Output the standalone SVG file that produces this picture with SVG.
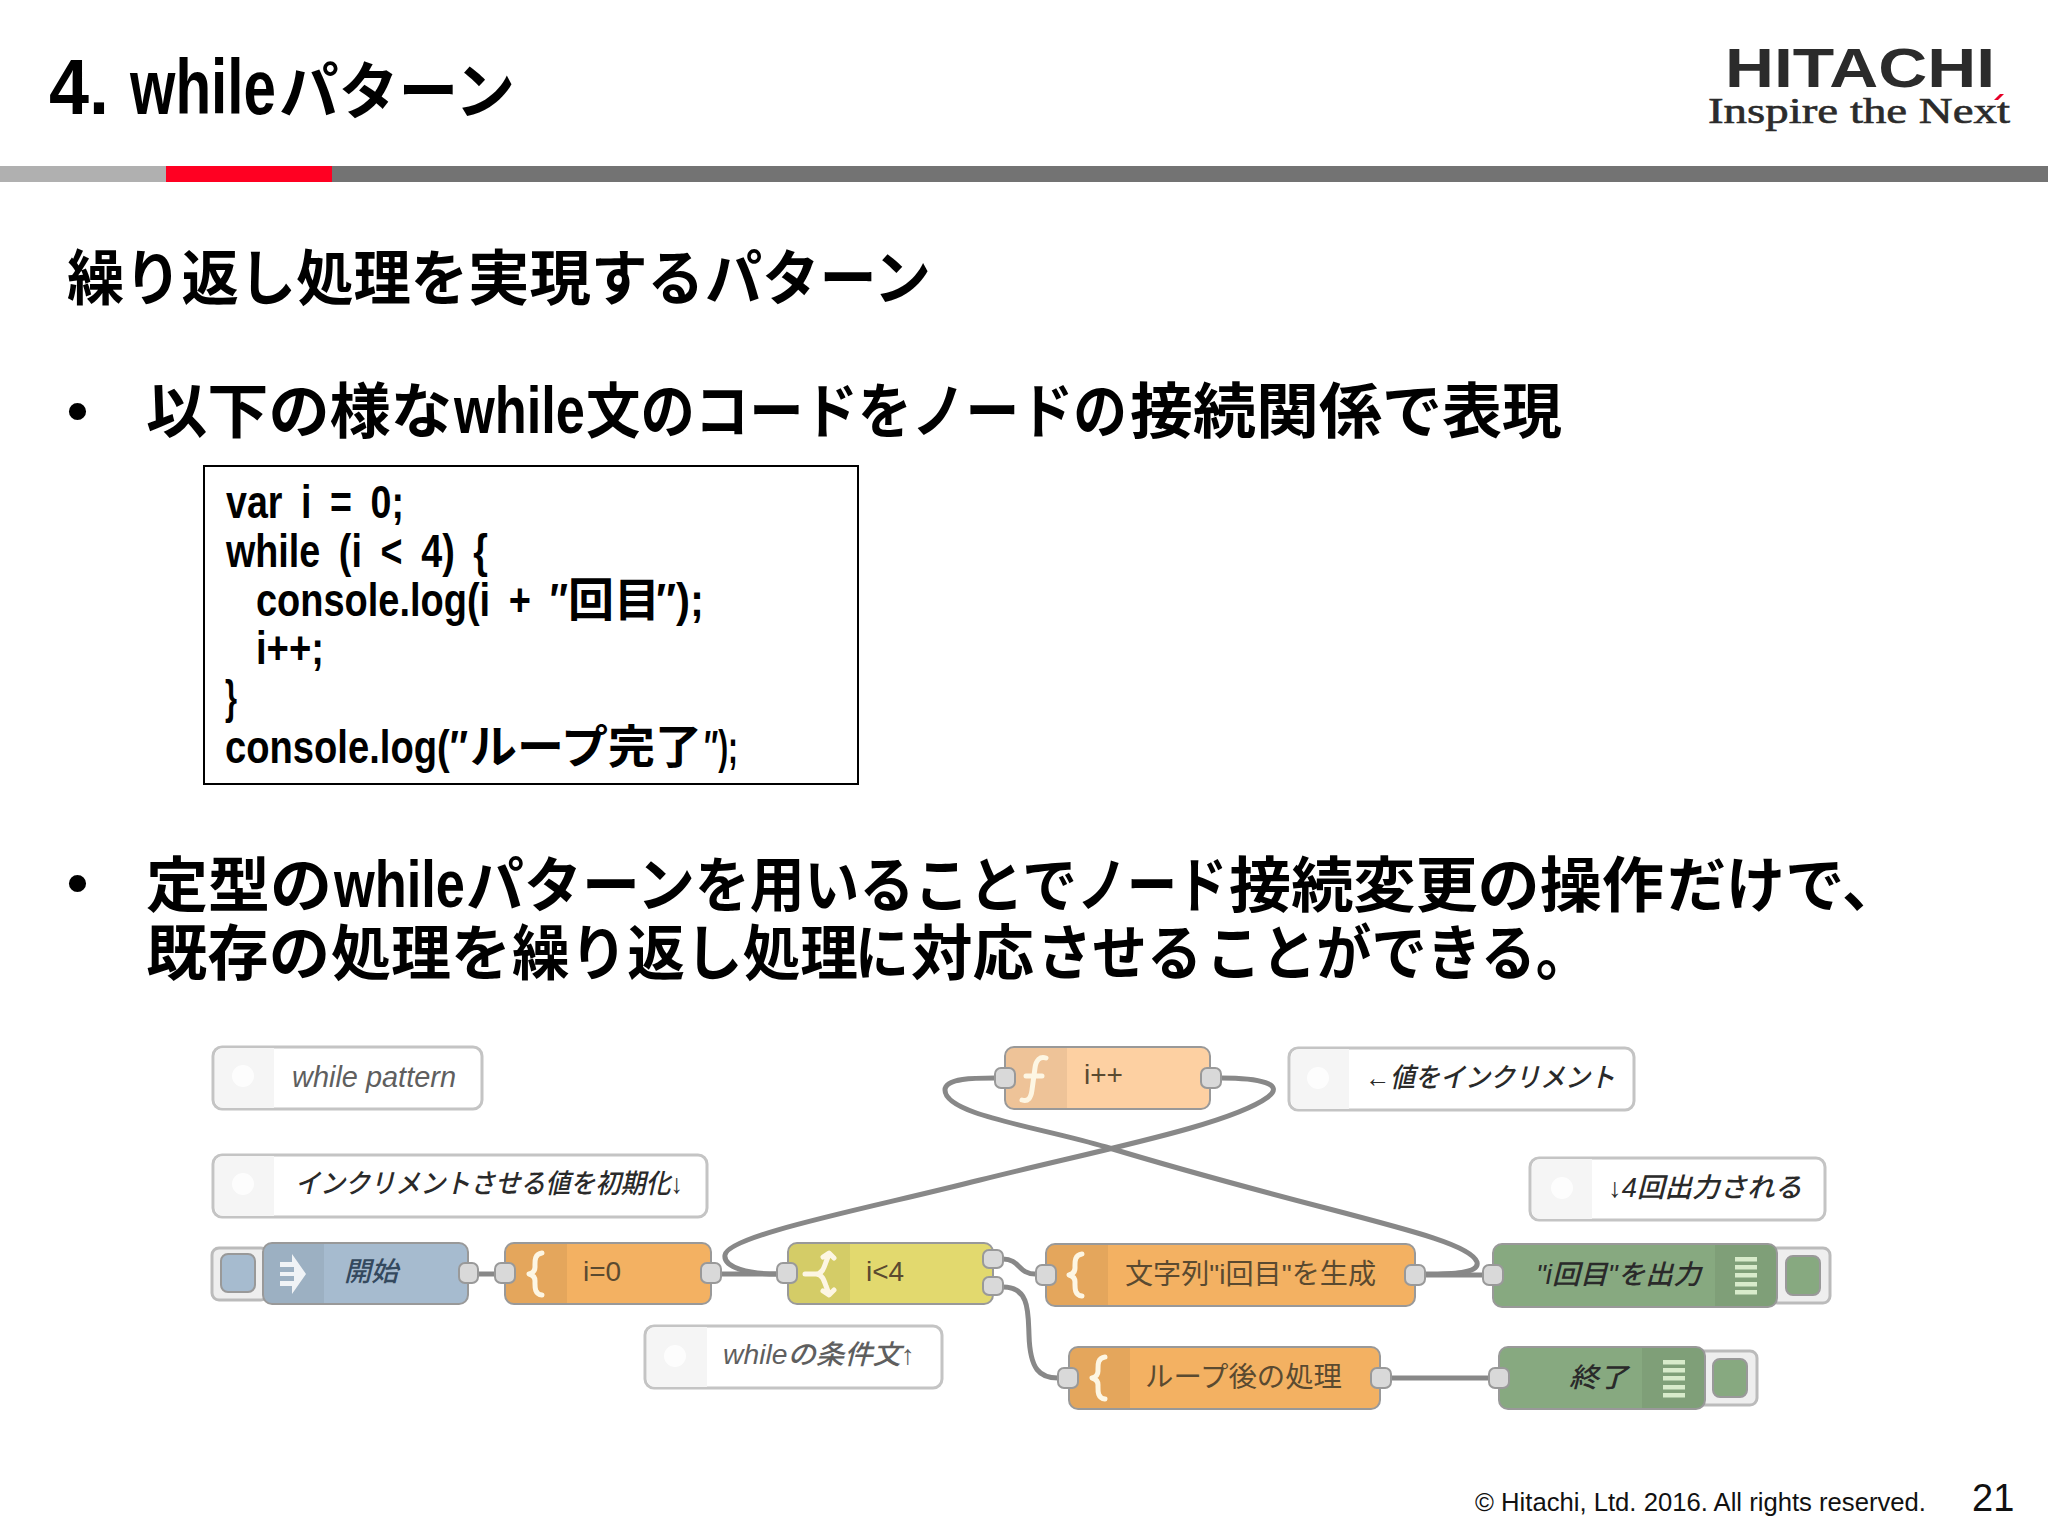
<svg xmlns="http://www.w3.org/2000/svg" width="2048" height="1536" viewBox="0 0 2048 1536">
<style>
text{font-family:"Liberation Sans","Noto Sans CJK JP",sans-serif;white-space:pre}
.h{font-weight:700;fill:#000}
.t{font-size:62px}
.b{font-size:60px}
.lat{font-size:66px}
.c{font-size:46px;font-weight:700;word-spacing:10px}
.n{stroke:#999;stroke-width:2}
.fn{fill:#f3b162}
.sw{fill:#e2d96e}
.inc{fill:#fdd0a2}
.inj{fill:#a6bbcf}
.dbg{fill:#87a980}
.cm{fill:#fff;stroke:#c4c4c4;stroke-width:3}
.cml{fill:#f5f5f5}
.div{fill:#000;opacity:.06}
.p{fill:#d9d9d9;stroke:#999;stroke-width:2}
.btn{fill:#eee;stroke:#bbb;stroke-width:3}
.w{fill:none;stroke:#888;stroke-width:5;stroke-linecap:round}
.l{font-size:28px;fill:#5a4a30}
.li{font-size:27px;font-style:italic;font-weight:500;fill:#2a2a2a}
.g{fill:#5f5f5f}
.ic{fill:none;stroke:#fdf6e3;stroke-width:5;stroke-linecap:round;stroke-linejoin:round}
.bar{fill:#d8ebcb}
.bl{fill:#fff;opacity:.8}
</style>
<defs>
<path id="brace" class="ic" d="M13,-21 C5,-20 6,-12 6,-7 C6,-3 4,-1 0,0 C4,1 6,3 6,7 C6,12 5,20 13,21"/>
<g id="bars"><rect x="0" y="0" width="22" height="4.500" class="bar"/><rect x="0" y="8" width="22" height="4.500" class="bar"/><rect x="0" y="16" width="22" height="4.500" class="bar"/><rect x="0" y="25" width="22" height="4.500" class="bar"/><rect x="0" y="33" width="22" height="4.500" class="bar"/></g>
</defs>
<rect width="2048" height="1536" fill="#fff"/>
<g id="header">
<rect x="0" y="166" width="166" height="16" fill="#b0b0b0"/>
<rect x="166" y="166" width="166" height="16" fill="#ff0022"/>
<rect x="332" y="166" width="1716" height="16" fill="#737373"/>
<text class="h t" y="114"><tspan x="49" style="font-size:77px" textLength="80" lengthAdjust="spacingAndGlyphs">4. </tspan><tspan x="130" style="font-size:77px" textLength="146" lengthAdjust="spacingAndGlyphs">while</tspan><tspan x="279" textLength="236" lengthAdjust="spacingAndGlyphs">パターン</tspan></text>
</g>
<g id="logo">
<text x="1725" y="87" font-size="56" font-weight="700" fill="#2b2b2b" textLength="270" lengthAdjust="spacingAndGlyphs">HITACHI</text>
<text x="1708" y="123" font-size="36" fill="#2b2b2b" stroke="#2b2b2b" stroke-width=".6" textLength="302" lengthAdjust="spacingAndGlyphs" style="font-family:'Liberation Serif',serif">Inspire the Next</text>
<polygon points="1994,100 2000,94 2004,94 1998,100" fill="#e60027"/>
</g>
<g id="body">
<text class="h b" y="300"><tspan x="67" textLength="401" lengthAdjust="spacingAndGlyphs">繰り返し処理を</tspan><tspan x="468" textLength="123" lengthAdjust="spacingAndGlyphs">実現</tspan><tspan x="591" textLength="113" lengthAdjust="spacingAndGlyphs">する</tspan><tspan x="705" textLength="226" lengthAdjust="spacingAndGlyphs">パターン</tspan></text>
<text class="h b" x="67" y="431">•</text>
<text class="h b" y="433"><tspan x="146" textLength="306" lengthAdjust="spacingAndGlyphs">以下の様な</tspan><tspan class="lat" x="454" textLength="131" lengthAdjust="spacingAndGlyphs">while</tspan><tspan x="586" textLength="272" lengthAdjust="spacingAndGlyphs">文のコード</tspan><tspan x="858" textLength="269" lengthAdjust="spacingAndGlyphs">をノードの</tspan><tspan x="1130" textLength="252" lengthAdjust="spacingAndGlyphs">接続関係</tspan><tspan x="1382" textLength="180" lengthAdjust="spacingAndGlyphs">で表現</tspan></text>
<text class="h b" x="67" y="903">•</text>
<text class="h b" y="907"><tspan x="146" textLength="186" lengthAdjust="spacingAndGlyphs">定型の</tspan><tspan class="lat" x="334" textLength="131" lengthAdjust="spacingAndGlyphs">while</tspan><tspan x="466" textLength="229" lengthAdjust="spacingAndGlyphs">パターン</tspan><tspan x="695" textLength="382" lengthAdjust="spacingAndGlyphs">を用いることで</tspan><tspan x="1077" textLength="150" lengthAdjust="spacingAndGlyphs">ノード</tspan><tspan x="1229" textLength="435" lengthAdjust="spacingAndGlyphs">接続変更の操作</tspan><tspan x="1667" textLength="234" lengthAdjust="spacingAndGlyphs">だけで、</tspan></text>
<text class="h b" y="975"><tspan x="146" textLength="184" lengthAdjust="spacingAndGlyphs">既存の</tspan><tspan x="331" textLength="180" lengthAdjust="spacingAndGlyphs">処理を</tspan><tspan x="512" textLength="346" lengthAdjust="spacingAndGlyphs">繰り返し処理</tspan><tspan x="855" textLength="54" lengthAdjust="spacingAndGlyphs">に</tspan><tspan x="911" textLength="123" lengthAdjust="spacingAndGlyphs">対応</tspan><tspan x="1037" textLength="165" lengthAdjust="spacingAndGlyphs">させる</tspan><tspan x="1206" textLength="385" lengthAdjust="spacingAndGlyphs">ことができる。</tspan></text>
</g>
<g id="code">
<rect x="204" y="466" width="654" height="318" fill="#fff" stroke="#000" stroke-width="2"/>
<text class="c" y="518"><tspan x="226" textLength="178" lengthAdjust="spacingAndGlyphs">var i = 0;</tspan></text>
<text class="c" y="567"><tspan x="226" textLength="262" lengthAdjust="spacingAndGlyphs">while (i &lt; 4) {</tspan></text>
<text class="c" y="616"><tspan x="256" textLength="312" lengthAdjust="spacingAndGlyphs">console.log(i + ″</tspan><tspan x="568">回目</tspan><tspan x="656" textLength="48" lengthAdjust="spacingAndGlyphs">″);</tspan></text>
<text class="c" y="664"><tspan x="256" textLength="68" lengthAdjust="spacingAndGlyphs">i++;</tspan></text>
<text class="c" y="713"><tspan x="225" textLength="12" lengthAdjust="spacingAndGlyphs">}</tspan></text>
<text class="c" y="763"><tspan x="225" textLength="243" lengthAdjust="spacingAndGlyphs">console.log(″</tspan><tspan x="470" textLength="232" lengthAdjust="spacingAndGlyphs">ループ完了</tspan><tspan x="704" textLength="34" lengthAdjust="spacingAndGlyphs">″);</tspan></text>
</g>
<g id="connectors">
<path class="w" d="M478,1274H495"/>
<path class="w" d="M721,1274H777"/>
<path class="w" d="M1003,1259C1020,1259 1018,1274 1035,1274"/>
<path class="w" d="M1003,1287C1030,1287 1028,1313 1029,1335C1030,1370 1040,1378 1058,1378"/>
<path class="w" d="M1426,1275H1482"/>
<path class="w" d="M1391,1378H1489"/>
<path class="w" d="M1221,1078C1260,1078 1285,1084 1268,1097C1230,1125 1100,1150 980,1180C870,1208 728,1235 725,1255C723,1268 750,1274 777,1274"/>
<path class="w" d="M1426,1274C1450,1274 1480,1274 1477,1262C1468,1236 1330,1215 1106,1147C1040,1127 945,1115 945,1090C945,1078 975,1078 995,1078"/>
</g>
<g id="c1"><rect class="cm" x="213" y="1047" width="269" height="62" rx="9"/><path class="cml" d="M215,1056a8,8 0 0 1 8,-8H274V1108H223a8,8 0 0 1 -8,-8Z"/><circle class="bl" cx="243" cy="1076" r="11"/><text class="li g" x="292" y="1087" style="font-size:29px" textLength="164" lengthAdjust="spacingAndGlyphs">while pattern</text></g>
<g id="c2"><rect class="cm" x="213" y="1155" width="494" height="62" rx="9"/><path class="cml" d="M215,1164a8,8 0 0 1 8,-8H274V1216H223a8,8 0 0 1 -8,-8Z"/><circle class="bl" cx="243" cy="1184" r="11"/><text class="li" x="295" y="1193" textLength="388" lengthAdjust="spacingAndGlyphs">インクリメントさせる値を初期化↓</text></g>
<g id="c3"><rect class="cm" x="645" y="1326" width="297" height="62" rx="9"/><path class="cml" d="M647,1335a8,8 0 0 1 8,-8H707V1387H655a8,8 0 0 1 -8,-8Z"/><circle class="bl" cx="675" cy="1356" r="11"/><text class="li g" x="723" y="1364" textLength="192" lengthAdjust="spacingAndGlyphs">whileの条件文↑</text></g>
<g id="c4"><rect class="cm" x="1289" y="1048" width="345" height="62" rx="9"/><path class="cml" d="M1291,1057a8,8 0 0 1 8,-8H1349V1109H1299a8,8 0 0 1 -8,-8Z"/><circle class="bl" cx="1318" cy="1078" r="11"/><text class="li" x="1365" y="1087" textLength="250" lengthAdjust="spacingAndGlyphs">←値をインクリメント</text></g>
<g id="c5"><rect class="cm" x="1530" y="1158" width="295" height="62" rx="9"/><path class="cml" d="M1532,1167a8,8 0 0 1 8,-8H1592V1219H1540a8,8 0 0 1 -8,-8Z"/><circle class="bl" cx="1562" cy="1188" r="11"/><text class="li" x="1608" y="1197" textLength="194" lengthAdjust="spacingAndGlyphs">↓4回出力される</text></g>
<g id="n-start">
<rect class="btn" x="212" y="1248" width="56" height="52" rx="7"/><rect class="inj" x="221" y="1254" width="34" height="38" rx="7" stroke="#999" stroke-width="2"/>
<rect class="n inj" x="263" y="1243" width="205" height="61" rx="9"/><path class="div" d="M264,1252a8,8 0 0 1 8,-8H324V1303H272a8,8 0 0 1 -8,-8Z"/>
<path fill="#fff" d="M280,1262h12v-8l14,20l-14,20v-8h-12v-5h14v-5h-14v-4h14v-5h-14Z" opacity=".85"/>
<text class="li" x="344" y="1281" style="fill:#34495e">開始</text>
<rect class="p" x="459" y="1263" width="19" height="20" rx="6"/></g>
<g id="n-i0">
<rect class="n fn" x="505" y="1243" width="206" height="61" rx="9"/><path class="div" d="M506,1252a8,8 0 0 1 8,-8H567V1303H514a8,8 0 0 1 -8,-8Z"/>
<use href="#brace" x="529" y="1274"/><text class="l" x="583" y="1281">i=0</text>
<rect class="p" x="495" y="1263" width="20" height="20" rx="6"/><rect class="p" x="701" y="1263" width="20" height="20" rx="6"/></g>
<g id="n-sw">
<rect class="n sw" x="788" y="1243" width="205" height="61" rx="9"/><path class="div" d="M789,1252a8,8 0 0 1 8,-8H850V1303H797a8,8 0 0 1 -8,-8Z"/>
<path class="ic" d="M805,1274H816C822,1274 824,1268 826,1262L829,1254M823,1257L829,1253L834,1258M816,1274C822,1274 824,1280 826,1286L829,1294M823,1291L829,1295L834,1290"/>
<text class="l" x="866" y="1281">i&lt;4</text>
<rect class="p" x="777" y="1263" width="20" height="20" rx="6"/><rect class="p" x="983" y="1250" width="20" height="18" rx="6"/><rect class="p" x="983" y="1277" width="20" height="18" rx="6"/></g>
<g id="n-inc">
<rect class="n inc" x="1005" y="1047" width="205" height="62" rx="9"/><path class="div" d="M1006,1056a8,8 0 0 1 8,-8H1067V1108H1014a8,8 0 0 1 -8,-8Z"/>
<path class="ic" d="M1046,1058C1040,1056 1036,1060 1035,1068L1032,1090C1031,1098 1028,1102 1022,1100M1026,1076H1042"/>
<text class="l" x="1084" y="1084">i++</text>
<rect class="p" x="995" y="1068" width="20" height="20" rx="6"/><rect class="p" x="1201" y="1068" width="20" height="20" rx="6"/></g>
<g id="n-text">
<rect class="n fn" x="1046" y="1244" width="369" height="62" rx="9"/><path class="div" d="M1047,1253a8,8 0 0 1 8,-8H1108V1305H1055a8,8 0 0 1 -8,-8Z"/>
<use href="#brace" x="1069" y="1275"/><text class="l" x="1125" y="1284" textLength="251" lengthAdjust="spacingAndGlyphs">文字列"i回目"を生成</text>
<rect class="p" x="1036" y="1265" width="20" height="20" rx="6"/><rect class="p" x="1405" y="1265" width="20" height="20" rx="6"/></g>
<g id="n-after">
<rect class="n fn" x="1069" y="1347" width="311" height="62" rx="9"/><path class="div" d="M1070,1356a8,8 0 0 1 8,-8H1130V1408H1078a8,8 0 0 1 -8,-8Z"/>
<use href="#brace" x="1092" y="1378"/><text class="l" x="1145" y="1387" textLength="197" lengthAdjust="spacingAndGlyphs">ループ後の処理</text>
<rect class="p" x="1058" y="1368" width="20" height="20" rx="6"/><rect class="p" x="1371" y="1368" width="20" height="20" rx="6"/></g>
<g id="n-dbg1">
<rect class="btn" x="1770" y="1248" width="60" height="55" rx="7"/><rect class="dbg" x="1786" y="1256" width="34" height="39" rx="7" stroke="#999" stroke-width="2"/>
<rect class="n dbg" x="1493" y="1244" width="284" height="63" rx="9"/><path class="div" d="M1715,1245H1768a8,8 0 0 1 8,8V1298a8,8 0 0 1 -8,8H1715Z"/>
<use href="#bars" x="1735" y="1257"/>
<text class="li" x="1536" y="1284" textLength="165" lengthAdjust="spacingAndGlyphs">"i回目"を出力</text>
<rect class="p" x="1483" y="1265" width="20" height="20" rx="6"/></g>
<g id="n-dbg2">
<rect class="btn" x="1695" y="1351" width="62" height="54" rx="7"/><rect class="dbg" x="1713" y="1359" width="34" height="38" rx="7" stroke="#999" stroke-width="2"/>
<rect class="n dbg" x="1499" y="1347" width="206" height="62" rx="9"/><path class="div" d="M1642,1348H1696a8,8 0 0 1 8,8V1400a8,8 0 0 1 -8,8H1642Z"/>
<use href="#bars" x="1663" y="1360"/>
<text class="li" x="1569" y="1387" textLength="59" lengthAdjust="spacingAndGlyphs">終了</text>
<rect class="p" x="1489" y="1368" width="20" height="20" rx="6"/></g>
<g id="footer">
<text x="1475" y="1511" font-size="25" fill="#111" textLength="451" lengthAdjust="spacingAndGlyphs">© Hitachi, Ltd. 2016. All rights reserved.</text>
<text x="1972" y="1511" font-size="38" fill="#111">21</text>
</g>
</svg>
